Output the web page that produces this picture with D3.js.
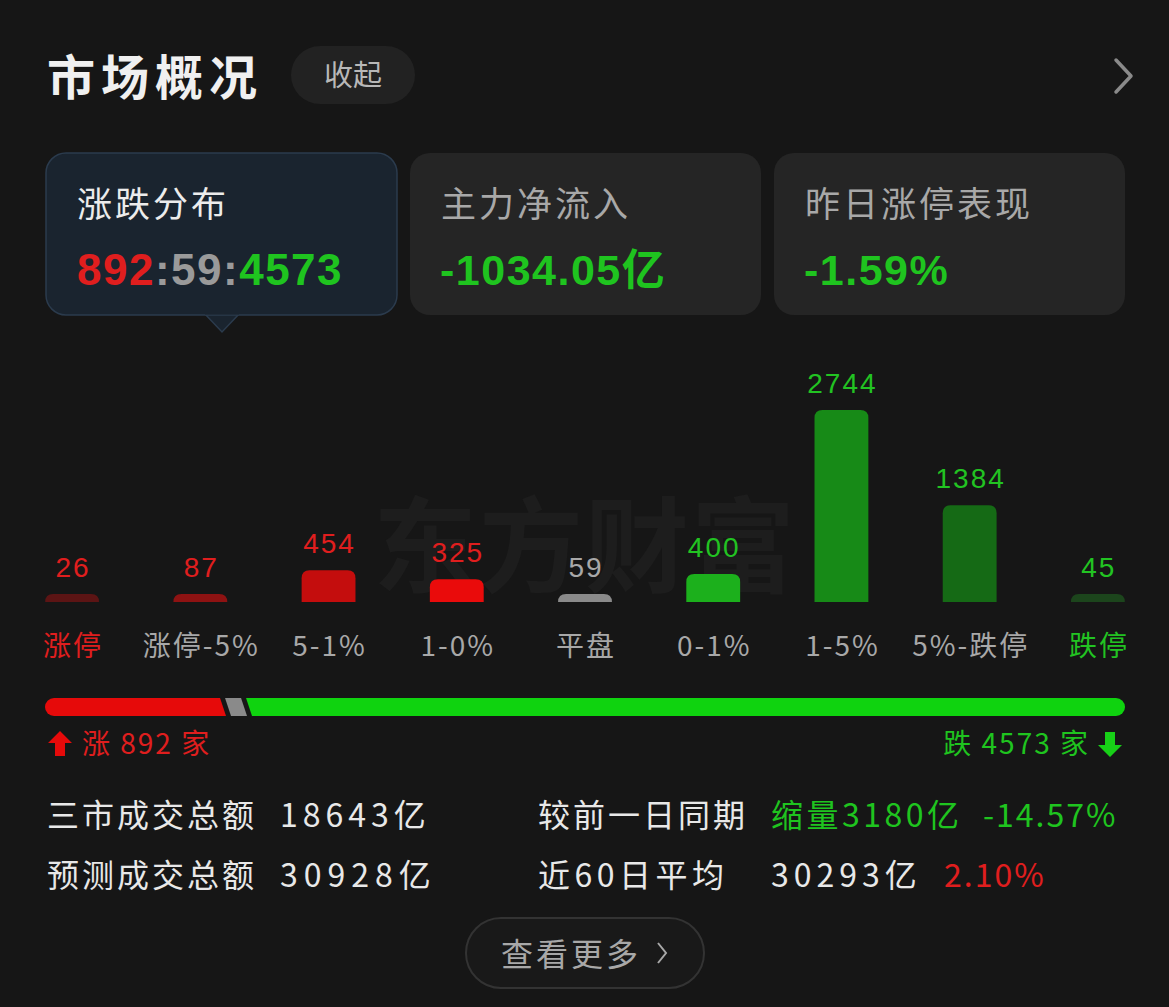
<!DOCTYPE html>
<html>
<head>
<meta charset="utf-8">
<script src="https://cdn.jsdelivr.net/npm/d3@7"></script>
<style>
  html, body { margin: 0; padding: 0; background: #161616; }
  svg { display: block; }
</style>
</head>
<body>
<div id="chart"></div>
<script>
// distribution of up / flat / down stocks
const categories = ["涨停", "涨停-5%", "5-1%", "1-0%", "平盘", "0-1%", "1-5%", "5%-跌停", "跌停"];
const counts = [26, 87, 454, 325, 59, 400, 2744, 1384, 45];
const barColors = ["#5c1414", "#8e1212", "#c40d0d", "#ea0b0b", "#8a8a8a", "#1cb01c", "#178a17", "#156a15", "#1c451c"];
const valueColors = ["#e01e1e", "#e01e1e", "#e01e1e", "#e01e1e", "#a8a8a8", "#22c322", "#22c322", "#22c322", "#22c322"];
const labelColors = ["#e01e1e", "#a8a8a8", "#a8a8a8", "#a8a8a8", "#a8a8a8", "#a8a8a8", "#a8a8a8", "#a8a8a8", "#22c322"];

// up : flat : down
const breadth = [892, 59, 4573];

// card tiles
const cardTitles = ["涨跌分布", "主力净流入", "昨日涨停表现"];
const cardValues = ["", "-1034.05亿", "-1.59%"];

// turnover stats
const statLabels = [["三市成交总额", "较前一日同期"], ["预测成交总额", "近60日平均"]];
const statValues = [["18643亿", "缩量3180亿"], ["30928亿", "30293亿"]];
const statChange = ["-14.57%", "2.10%"];

const W = 1169, H = 1007;
const RED = "#e01e1e", GREEN = "#1fc41f", GRAY = "#a8a8a8";
const CJK = "'Noto Sans CJK SC', 'Noto Sans', sans-serif";
const NUM = "'Liberation Sans', 'Noto Sans CJK SC', sans-serif";

let svg = d3.select("#chart")
  .append("svg")
  .attr("width", W)
  .attr("height", H);

svg.append("rect")
  .attr("width", W).attr("height", H)
  .attr("fill", "#161616");

// header
svg.append("text")
  .attr("x", 47).attr("y", 95)
  .attr("font-family", CJK).attr("font-weight", 700)
  .attr("font-size", 48).attr("fill", "#f0f0f0")
  .attr("letter-spacing", 6)
  .text("市场概况");

svg.append("rect")
  .attr("x", 291).attr("y", 46).attr("width", 124).attr("height", 58)
  .attr("rx", 29).attr("fill", "#222222");
svg.append("text")
  .attr("x", 353).attr("y", 86)
  .attr("text-anchor", "middle")
  .attr("font-family", CJK).attr("font-size", 29).attr("fill", "#b8b8b8")
  .text("收起");

svg.append("path")
  .attr("d", "M1116,60 L1131,76 L1116,92")
  .attr("fill", "none").attr("stroke", "#8a8a8a")
  .attr("stroke-width", 3.5).attr("stroke-linecap", "round").attr("stroke-linejoin", "round");

// cards
let cardX = d3.scalePoint().domain(d3.range(3)).range([46, 774]);
let cards = svg.append("g").attr("class", "cards");

// pointer under selected card
cards.append("path")
  .attr("d", "M204,313 L222,332 L240,313 Z")
  .attr("fill", "#1a242f").attr("stroke", "#2b3b4d").attr("stroke-width", 1.5);

cardTitles.forEach((title, i) => {
  let x = cardX(i);
  let sel = i === 0;
  cards.append("rect")
    .attr("x", x).attr("y", 153).attr("width", 351).attr("height", 162)
    .attr("rx", 20)
    .attr("fill", sel ? "#1a242f" : "#252525")
    .attr("stroke", sel ? "#2b3b4d" : "none")
    .attr("stroke-width", 1.5);
  cards.append("text")
    .attr("x", x + 31).attr("y", 217)
    .attr("font-family", CJK).attr("font-size", 35)
    .attr("letter-spacing", 3)
    .attr("fill", sel ? "#ececec" : "#a8a8a8")
    .text(title);
  if (!sel) {
    cards.append("text")
      .attr("x", x + 30).attr("y", 285)
      .attr("font-family", NUM).attr("font-weight", 700).attr("font-size", 43)
      .attr("letter-spacing", 1.5)
      .attr("fill", GREEN)
      .text(cardValues[i]);
  }
});
// cover the pointer's top edge
cards.append("rect")
  .attr("x", 205).attr("y", 312).attr("width", 34).attr("height", 2.5)
  .attr("fill", "#1a242f");

let ratio = cards.append("text")
  .attr("x", 77).attr("y", 285)
  .attr("font-family", NUM).attr("font-weight", 700).attr("font-size", 44)
  .attr("letter-spacing", 1.5);
ratio.append("tspan").attr("fill", RED).text(breadth[0]);
ratio.append("tspan").attr("fill", "#9a9a9a").text(":" + breadth[1] + ":");
ratio.append("tspan").attr("fill", GREEN).text(breadth[2]);

// watermark
svg.append("text")
  .attr("x", 585).attr("y", 585)
  .attr("text-anchor", "middle")
  .attr("font-family", CJK).attr("font-weight", 700)
  .attr("font-size", 104).attr("fill", "#1d1d1d")
  .attr("letter-spacing", 2)
  .text("东方财富");

// bar chart
const baseY = 602;
const minH = 8;
let x = d3.scaleBand()
  .domain(categories)
  .range([8, 1162])
  .paddingInner(0.58)
  .paddingOuter(0.29);
let y = d3.scaleLinear()
  .domain([0, d3.max(counts)])
  .range([0, 192]);

function barPath(x0, w, h) {
  let r = Math.min(8, h, w / 2);
  let top = baseY - h;
  return `M${x0},${baseY} L${x0},${top + r} Q${x0},${top} ${x0 + r},${top}` +
    ` L${x0 + w - r},${top} Q${x0 + w},${top} ${x0 + w},${top + r} L${x0 + w},${baseY} Z`;
}

let data = categories.map((c, i) => ({ cat: c, value: counts[i], i: i }));
let barH = d => Math.max(minH, y(d.value));

let bars = svg.append("g").attr("class", "bars");
bars.selectAll("path")
  .data(data)
  .enter()
  .append("path")
  .attr("d", d => barPath(x(d.cat), x.bandwidth(), barH(d)))
  .attr("fill", d => barColors[d.i]);

bars.selectAll("text.value")
  .data(data)
  .enter()
  .append("text")
  .attr("class", "value")
  .attr("x", d => x(d.cat) + x.bandwidth() / 2 + 1)
  .attr("y", d => baseY - barH(d) - 17)
  .attr("text-anchor", "middle")
  .attr("font-family", NUM).attr("font-size", 28)
  .attr("letter-spacing", 2)
  .attr("fill", d => valueColors[d.i])
  .text(d => d.value);

bars.selectAll("text.cat")
  .data(data)
  .enter()
  .append("text")
  .attr("class", "cat")
  .attr("x", d => x(d.cat) + x.bandwidth() / 2 + 1)
  .attr("y", 656)
  .attr("text-anchor", "middle")
  .attr("font-family", CJK).attr("font-size", 28)
  .attr("letter-spacing", 2)
  .attr("fill", d => labelColors[d.i])
  .text(d => d.cat);

// breadth bar
const by = 698, bh = 18, skew = 6, gap = 5;
let flatW = 16;
let bx = d3.scaleLinear().domain([0, breadth[0] + breadth[2]]).range([45, 1125 - 2 * gap - flatW]);
let upEnd = bx(breadth[0]) + 9;
let flatStart = upEnd + gap;
let flatEnd = flatStart + flatW;
let downStart = flatEnd + gap;

let bar = svg.append("g").attr("class", "breadth");
bar.append("path")
  .attr("d", `M${45 + bh / 2},${by} L${upEnd - skew},${by} L${upEnd},${by + bh} L${45 + bh / 2},${by + bh}` +
    ` A${bh / 2},${bh / 2} 0 0 1 ${45 + bh / 2},${by} Z`)
  .attr("fill", "#e60a0a");
bar.append("path")
  .attr("d", `M${flatStart - skew},${by} L${flatEnd - skew},${by} L${flatEnd},${by + bh} L${flatStart},${by + bh} Z`)
  .attr("fill", "#8a8a8a");
bar.append("path")
  .attr("d", `M${downStart - skew},${by} L${1125 - bh / 2},${by} A${bh / 2},${bh / 2} 0 0 1 ${1125 - bh / 2},${by + bh}` +
    ` L${downStart},${by + bh} Z`)
  .attr("fill", "#0fd30f");

// up / down labels with arrows
bar.append("path")
  .attr("d", "M60,731 L72,743 L65,743 L65,756 L55,756 L55,743 L48,743 Z")
  .attr("fill", "#e60a0a");
bar.append("text")
  .attr("x", 82).attr("y", 754)
  .attr("font-family", CJK).attr("font-size", 28).attr("fill", RED)
  .attr("letter-spacing", 2)
  .text(`涨 ${breadth[0]} 家`);

bar.append("path")
  .attr("d", "M1110,757 L1122,745 L1115,745 L1115,732 L1105,732 L1105,745 L1098,745 Z")
  .attr("fill", "#17d017");
bar.append("text")
  .attr("x", 1090).attr("y", 754)
  .attr("text-anchor", "end")
  .attr("font-family", CJK).attr("font-size", 28).attr("fill", GREEN)
  .attr("letter-spacing", 2)
  .text(`跌 ${breadth[2]} 家`);

// stats
let stats = svg.append("g").attr("class", "stats");
const rowY = [827, 887];
const white = "#e8e8e8";
function stat(xp, yp, txt, fill, ls) {
  stats.append("text").attr("x", xp).attr("y", yp)
    .attr("font-family", CJK).attr("font-size", 32)
    .attr("letter-spacing", ls)
    .attr("fill", fill)
    .text(txt);
}
rowY.forEach((ry, r) => {
  stat(47, ry, statLabels[r][0], white, 3);
  stat(280, ry, statValues[r][0], white, r === 0 ? 5 : 6);
  stat(538, ry, statLabels[r][1], white, r === 0 ? 3 : 4.5);
  stat(771, ry, statValues[r][1], r === 0 ? GREEN : white, r === 0 ? 3.5 : 5);
  stat(r === 0 ? 983 : 944, ry, statChange[r], r === 0 ? GREEN : RED, r === 0 ? 2 : 2);
});

// more button
svg.append("rect")
  .attr("x", 466).attr("y", 918).attr("width", 238).attr("height", 70)
  .attr("rx", 35).attr("fill", "#191919")
  .attr("stroke", "#333333").attr("stroke-width", 2);
svg.append("text")
  .attr("x", 501).attr("y", 966)
  .attr("font-family", CJK).attr("font-size", 32).attr("fill", "#a8a8a8")
  .attr("letter-spacing", 3)
  .text("查看更多");
svg.append("path")
  .attr("d", "M658,943 L666,953 L658,963")
  .attr("fill", "none").attr("stroke", "#a8a8a8").attr("stroke-width", 2);
</script>
</body>
</html>
